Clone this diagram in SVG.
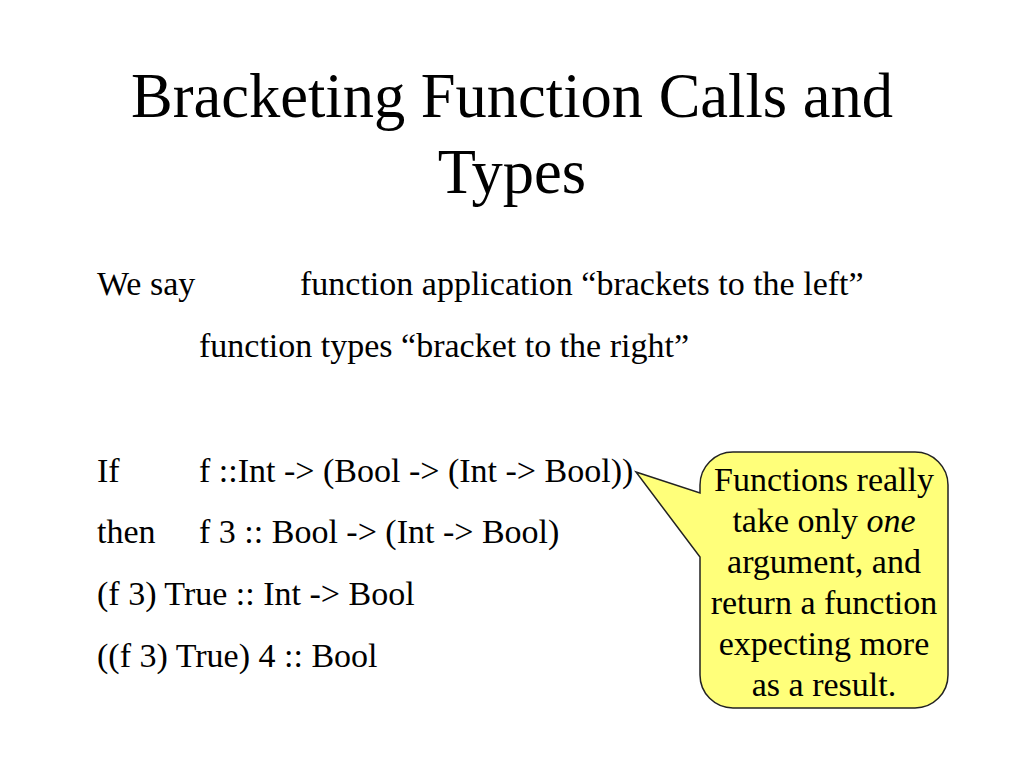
<svg xmlns="http://www.w3.org/2000/svg" width="1024" height="768" viewBox="0 0 1024 768">
<style>
.t{font-family:"Liberation Serif","Times New Roman",serif;fill:#000}
.title{font-size:62.5px}
.body{font-size:34px}
.call{font-size:34px;text-anchor:middle}
</style>
<rect width="1024" height="768" fill="#fff"/>
<g id="title">
<text class="t title" x="512" y="117" text-anchor="middle">Bracketing Function Calls and</text>
<text class="t title" x="512" y="193" text-anchor="middle">Types</text>
</g>
<g id="body">
<text class="t body" x="97" y="295">We say</text>
<text class="t body" x="300" y="295">function application “brackets to the left”</text>
<text class="t body" x="199" y="357">function types “bracket to the right”</text>
<text class="t body" x="97" y="482">If</text>
<text class="t body" x="199" y="482">f ::Int -&gt; (Bool -&gt; (Int -&gt; Bool))</text>
<text class="t body" x="97" y="543">then</text>
<text class="t body" x="199" y="543">f 3 :: Bool -&gt; (Int -&gt; Bool)</text>
<text class="t body" x="97" y="605">(f 3) True :: Int -&gt; Bool</text>
<text class="t body" x="97" y="667">((f 3) True) 4 :: Bool</text>
</g>
<g id="callout">
<path d="M733,452 H915 A33,33 0 0 1 948,485 V675 A33,33 0 0 1 915,708 H733 A33,33 0 0 1 700,675 V557 L636,472 L700,493 V485 A33,33 0 0 1 733,452 Z" fill="#ffff7a" stroke="#222" stroke-width="1.5"/>
<text class="t call" x="824" y="491">Functions really</text>
<text class="t call" x="824" y="532">take only <tspan font-style="italic">one</tspan></text>
<text class="t call" x="824" y="573">argument, and</text>
<text class="t call" x="824" y="614">return a function</text>
<text class="t call" x="824" y="655">expecting more</text>
<text class="t call" x="824" y="696">as a result.</text>
</g>
</svg>
